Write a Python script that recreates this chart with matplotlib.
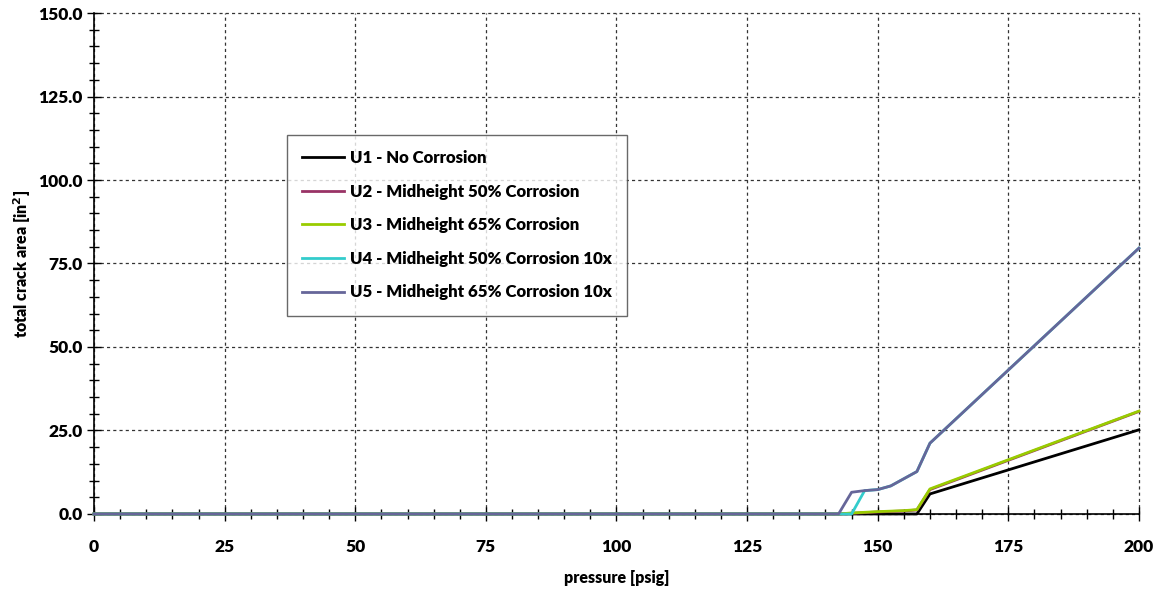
import matplotlib.pyplot as plt
from matplotlib.ticker import MultipleLocator, FormatStrFormatter

plt.rcParams['font.family'] = ['Lato', 'DejaVu Sans']
plt.rcParams['font.weight'] = 'heavy'

# pressure points [psig] and total crack area [in^2] per case
p_u1 = [0, 142.5, 145, 150, 155, 157.5, 160, 200]
a_u1 = [0, 0, 0, 0, 0, 0, 6.0, 25.2]

p_u2 = [0, 142.5, 145, 150, 155, 157.5, 160, 200]
a_u2 = [0, 0, 0.2, 0.6, 0.9, 1.2, 7.3, 30.7]

p_u3 = [0, 142.5, 145, 150, 155, 157.5, 160, 200]
a_u3 = [0, 0, 0.3, 0.7, 1.0, 1.3, 7.5, 30.8]

p_u4 = [0, 142.5, 145, 147.5, 150, 152.5, 157.5, 160, 200]
a_u4 = [0, 0, 0, 7.0, 7.3, 8.4, 12.7, 21.2, 79.6]

p_u5 = [0, 142.5, 145, 147.5, 150, 152.5, 157.5, 160, 200]
a_u5 = [0, 0, 6.5, 7.0, 7.3, 8.4, 12.7, 21.2, 79.6]

labels = ['U1 - No Corrosion',
          'U2 - Midheight 50% Corrosion',
          'U3 - Midheight 65% Corrosion',
          'U4 - Midheight 50% Corrosion 10x',
          'U5 - Midheight 65% Corrosion 10x']
colors = ['#000000', '#993366', '#99cc00', '#33cccc', '#666699']

fig = plt.figure(figsize=(11.61, 5.92), dpi=100)
ax = fig.add_axes([0.081, 0.1318, 0.9, 0.8462])

series = [(p_u1, a_u1), (p_u2, a_u2), (p_u3, a_u3), (p_u4, a_u4), (p_u5, a_u5)]
for (p, a), lab, c in zip(series, labels, colors):
    ax.plot(p, a, color=c, lw=2, label=lab, clip_on=False, zorder=3)

ax.set_xlim(0, 200)
ax.set_ylim(0, 150)
ax.xaxis.set_major_locator(MultipleLocator(25))
ax.xaxis.set_minor_locator(MultipleLocator(5))
ax.yaxis.set_major_locator(MultipleLocator(25))
ax.yaxis.set_minor_locator(MultipleLocator(5))
ax.yaxis.set_major_formatter(FormatStrFormatter('%.1f'))

ax.tick_params(which='both', direction='inout', width=1, color='black')
ax.tick_params(which='major', length=10, labelsize=12.5, pad=13)
ax.tick_params(which='minor', length=7)
ax.tick_params(axis='y', which='major', pad=3)

for s in ['top', 'right']:
    ax.spines[s].set_visible(False)
for s in ['left', 'bottom']:
    ax.spines[s].set_linewidth(1.2)

ax.grid(True, which='major', linestyle=(0, (2.5, 2.5)), color='#333333', lw=0.9)
for g in ax.get_xgridlines() + ax.get_ygridlines():
    g.set_clip_on(False)

ax.set_xlabel('pressure [psig]', fontsize=11.5, fontweight='heavy', labelpad=11)
ax.set_ylabel('total crack area [in$^\\mathbf{2}$]', fontsize=11.5, fontweight='heavy', labelpad=4)

leg = ax.legend(loc='upper left', bbox_to_anchor=(0.185, 0.757), frameon=True,
                fancybox=False, edgecolor='#444444', fontsize=12.1,
                handlelength=2.5, handletextpad=0.3, labelspacing=1.05,
                borderpad=0.9, borderaxespad=0)
leg.get_frame().set_linewidth(1.0)
for t in leg.get_texts():
    t.set_fontweight('heavy')

fig.savefig('out.png', dpi=100)
